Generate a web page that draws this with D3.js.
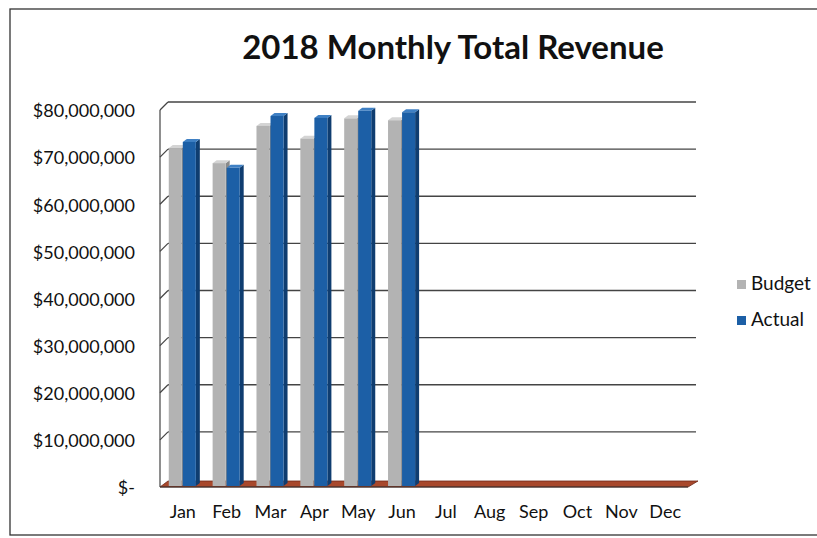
<!DOCTYPE html>
<html>
<head>
<meta charset="utf-8">
<script src="https://cdn.jsdelivr.net/npm/d3@7"></script>
<style>
  body { margin: 0; background: #fff; }
  text { font-family: Lato, "Open Sans", sans-serif; fill: #111; }
</style>
</head>
<body>
<svg id="chart" width="817" height="538"></svg>
<script>
// data
var months = ["Jan","Feb","Mar","Apr","May","Jun","Jul","Aug","Sep","Oct","Nov","Dec"];
var budget = [71500000, 68300000, 76200000, 73500000, 77800000, 77400000];
var actual = [72800000, 67300000, 78300000, 77900000, 79400000, 79100000];
var yTicks = [0, 10000000, 20000000, 30000000, 40000000, 50000000, 60000000, 70000000, 80000000];
var seriesNames = ["Budget", "Actual"];

var svg = d3.select("#chart"),
    width = +svg.attr("width"),
    height = +svg.attr("height"),
    // depth of the 3d box
    dx = 8, dy = -8,
    // bar depth
    bx = 4, by = -3;

var colors = {
  Budget: { front: "#b3b3b3", side: "#8a8a8a", top: "#d4d4d4" },
  Actual: { front: "#1c5fa6", side: "#0f3d70", top: "#3f80c4" }
};

var x = d3.scaleBand().domain(months).range([160, 688]).paddingInner(0.36).paddingOuter(0.2);
var xs = d3.scaleBand().domain(seriesNames).range([0, x.bandwidth()]);
var y = d3.scaleLinear().domain([0, 80000000]).range([487, 110]);

// outer frame
svg.append("rect")
  .attr("x", 10).attr("y", 9).attr("width", 830).attr("height", 526)
  .attr("fill", "none").attr("stroke", "#333").attr("stroke-width", 1.3);

// title
svg.append("text")
  .attr("x", 453).attr("y", 59)
  .attr("text-anchor", "middle")
  .style("font-size", "33px").style("font-weight", "bold")
  .text("2018 Monthly Total Revenue");

// back wall gridlines + side ticks
var x0 = x.range()[0], x1 = x.range()[1];
var g = svg.append("g");
yTicks.forEach(function(t) {
  if (t > 0) {
    g.append("line")
      .attr("x1", x0 + dx).attr("x2", x1 + dx)
      .attr("y1", y(t) + dy).attr("y2", y(t) + dy)
      .attr("stroke", "#444").attr("stroke-width", 1.4);
    g.append("line")
      .attr("x1", x0).attr("x2", x0 + dx)
      .attr("y1", y(t)).attr("y2", y(t) + dy)
      .attr("stroke", "#444").attr("stroke-width", 1.2);
  }
});
// left side wall edge
g.append("line")
  .attr("x1", x0).attr("x2", x0)
  .attr("y1", y(80000000)).attr("y2", y(0))
  .attr("stroke", "#444").attr("stroke-width", 1.2);

// floor strip
svg.append("path")
  .attr("d", "M" + x0 + "," + y(0) + "L" + (x1) + "," + y(0) +
             "L" + (x1 + dx + 2) + "," + (y(0) + dy + 2) +
             "L" + (x0 + dx) + "," + (y(0) + dy + 2) + "Z")
  .attr("fill", "#a8482c").attr("stroke", "#6e2a1a").attr("stroke-width", 0.8);

// bars
function drawBar(sel, name, vals) {
  var c = colors[name];
  vals.forEach(function(v, i) {
    var left = x(months[i]) + xs(name),
        w = xs.bandwidth() - 1,
        top = y(v) - 2,
        bottom = y(0) - 1;
    var b = sel.append("g");
    // side face
    b.append("path")
      .attr("d", "M" + (left + w) + "," + bottom + "L" + (left + w + bx) + "," + (bottom + by) +
                 "L" + (left + w + bx) + "," + (top + by) + "L" + (left + w) + "," + top + "Z")
      .attr("fill", c.side);
    // top face
    b.append("path")
      .attr("d", "M" + left + "," + top + "L" + (left + w) + "," + top +
                 "L" + (left + w + bx) + "," + (top + by) + "L" + (left + bx) + "," + (top + by) + "Z")
      .attr("fill", c.top);
    // front face
    b.append("rect")
      .attr("x", left).attr("y", top)
      .attr("width", w).attr("height", bottom - top)
      .attr("fill", c.front);
  });
}
var bars = svg.append("g");
drawBar(bars, "Budget", budget);
drawBar(bars, "Actual", actual);

// front axis line
svg.append("line")
  .attr("x1", x0).attr("x2", x1)
  .attr("y1", y(0)).attr("y2", y(0))
  .attr("stroke", "#333").attr("stroke-width", 1.2);

// y axis labels
var fmt = function(d) { return d === 0 ? "$-" : "$" + d3.format(",")(d); };
svg.append("g")
  .selectAll("text")
  .data(yTicks)
  .join("text")
  .attr("x", 135)
  .attr("y", function(d) { return y(d) + 1; })
  .attr("dy", "0.35em")
  .attr("text-anchor", "end")
  .style("font-size", "18px")
  .text(fmt);

// month labels
svg.append("g")
  .selectAll("text")
  .data(months)
  .join("text")
  .attr("x", function(d) { return x(d) + x.bandwidth() / 2; })
  .attr("y", 518)
  .attr("text-anchor", "middle")
  .style("font-size", "18px")
  .text(function(d) { return d; });

// legend
var legend = svg.append("g").attr("transform", "translate(737,276)");
seriesNames.forEach(function(name, i) {
  legend.append("rect")
    .attr("x", 0).attr("y", i * 36 + 4)
    .attr("width", 9).attr("height", 9)
    .attr("fill", colors[name].front);
  legend.append("text")
    .attr("x", 14).attr("y", i * 36 + 14)
    .style("font-size", "19px")
    .text(name);
});
</script>
</body>
</html>
